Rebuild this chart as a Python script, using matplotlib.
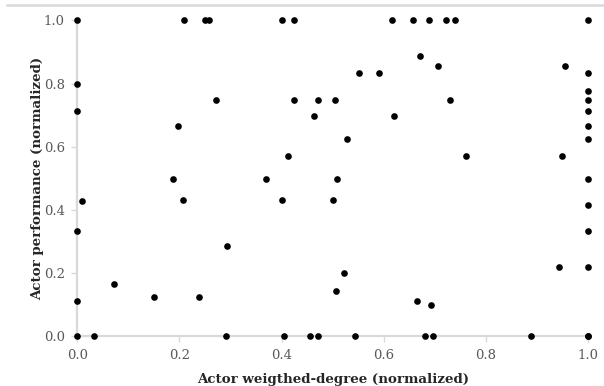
import matplotlib
matplotlib.use("Agg")
import matplotlib.pyplot as plt
from matplotlib.lines import Line2D

# actor weighted-degree (x) vs actor performance (y), both normalized
degree = [0.0, 0.0, 0.0, 0.0, 0.0, 0.0, 0.009, 0.033,
          0.072, 0.150, 0.187, 0.197, 0.207, 0.209, 0.238, 0.250, 0.258, 0.272,
          0.291, 0.293, 0.369, 0.400, 0.400, 0.404, 0.412, 0.425, 0.425,
          0.455, 0.463, 0.471, 0.472, 0.500, 0.504, 0.507, 0.508, 0.522, 0.529,
          0.544, 0.551, 0.591, 0.617, 0.620, 0.658, 0.666, 0.672, 0.681, 0.689,
          0.692, 0.696, 0.707, 0.721, 0.730, 0.740, 0.761, 0.888, 0.943, 0.950,
          0.954, 1.0, 1.0, 1.0, 1.0, 1.0, 1.0, 1.0, 1.0, 1.0, 1.0, 1.0, 1.0, 1.0]
performance = [1.0, 0.798, 0.713, 0.333, 0.110, 0.0, 0.429, 0.0,
               0.165, 0.125, 0.498, 0.667, 0.431, 1.0, 0.125, 1.0, 1.0, 0.749,
               0.0, 0.284, 0.498, 1.0, 0.431, 0.0, 0.572, 1.0, 0.749,
               0.0, 0.698, 0.749, 0.0, 0.431, 0.749, 0.143, 0.498, 0.200, 0.624,
               0.0, 0.833, 0.833, 1.0, 0.698, 1.0, 0.111, 0.887, 0.0, 1.0,
               0.098, 0.0, 0.856, 1.0, 0.749, 1.0, 0.572, 0.0, 0.220, 0.572,
               0.856, 1.0, 0.833, 0.777, 0.749, 0.713, 0.667, 0.624, 0.498, 0.416,
               0.333, 0.220, 0.0, 0.0]

ticks = [0.0, 0.2, 0.4, 0.6, 0.8, 1.0]
tick_labels = ["0.0", "0.2", "0.4", "0.6", "0.8", "1.0"]

axis_grey = "#d9d9d9"
text_grey = "#595959"

plt.rcParams['font.family'] = ['DejaVu Serif']

fig = plt.figure(figsize=(6.04, 3.86), dpi=100)
ax = fig.add_axes([0.128, 0.1295, 0.8455, 0.8174])

ax.plot(degree, performance, "o", color="black", markersize=4.8,
        markeredgewidth=0, clip_on=False, zorder=3)

ax.set_xlim(0, 1)
ax.set_ylim(0, 1)
ax.set_xticks(ticks)
ax.set_xticklabels(tick_labels)
ax.set_yticks(ticks)
ax.set_yticklabels(tick_labels)

for pos in ['top', 'right']:
    ax.spines[pos].set_visible(False)
for pos in ['left', 'bottom']:
    ax.spines[pos].set_color(axis_grey)
    ax.spines[pos].set_linewidth(1.6)

ax.tick_params(axis='both', colors=axis_grey, length=4, width=1, labelsize=9.5,
               labelcolor=text_grey, pad=5)

ax.set_xlabel("Actor weigthed-degree (normalized)", fontsize=9.6,
              fontweight="bold", color="#262626", labelpad=8)
ax.set_ylabel("Actor performance (normalized)", fontsize=9.6,
              fontweight="bold", color="#262626", labelpad=0)

# thin grey frame edge at top of the picture
fig.add_artist(Line2D([0.012, 1.0], [0.986, 0.986], color=axis_grey,
                      linewidth=1.8, transform=fig.transFigure))

fig.savefig("out.png", dpi=100)
